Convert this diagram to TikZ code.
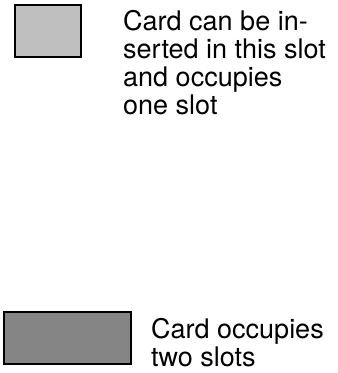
\documentclass[tikz,border=0pt]{standalone}
\usepackage{fontspec}
\setmainfont{TeX Gyre Heros}
\usepackage{tikz}

\begin{document}
\begin{tikzpicture}[x=1pt,y=1pt,
   card/.style={draw=black, line width=2pt},
   legend/.style={anchor=north west, inner sep=0pt, align=left,
      font=\fontsize{27}{28}\selectfont}]

   \useasboundingbox (0,0) rectangle (338,373);

% Karte in einem Steckplatz
   \node[card, fill=black!25, minimum width=66pt, minimum height=52pt, anchor=north west]
      (oneslot) at (14,369) {};
   \node[legend] (oneslottext) at (123,363)
      {Card can be in-\\serted in this slot\\and occupies\\one slot};

% Karte in zwei Steckplaetzen
   \node[card, fill=black!48, minimum width=127pt, minimum height=52pt, anchor=north west]
      (twoslot) at (3,62) {};
   \node[legend] (twoslottext) at (151,55)
      {Card occupies\\two slots};

 \end{tikzpicture}
\end{document}
